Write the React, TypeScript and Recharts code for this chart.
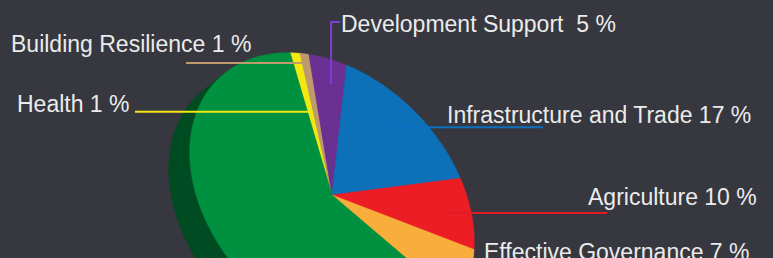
import { PieChart, Pie, Cell } from "recharts";

// slices in clockwise order starting at the top
const categories = [
  "Health",
  "Building Resilience",
  "Development Support",
  "Infrastructure and Trade",
  "Agriculture",
  "Effective Governance",
  "Other",
];
// share of the turn each slice takes on screen (the 3D tilt skews them off the printed percents)
const shares = [1.03, 0.94, 4.38, 21.15, 7.89, 5.39, 59.22];
const percentLabels = ["1 %", "1 %", "5 %", "17 %", "10 %", "7 %", ""];

const colors = ["#f3e80f", "#bf9a6c", "#6a3092", "#0c71b9", "#ec1d25", "#f9ae3b", "#009140"];
const sideColors = ["#8f8700", "#6f5638", "#3a1a52", "#06406b", "#86101a", "#936520", "#004c22"];
const leaderColors = ["#f3e80f", "#bf9a6c", "#7d3fd6", "#0d6fbf", "#e31b23", "#f9ae3b", "none"];

const BG = "#36373f";
const RAD = Math.PI / 180;
const TILT = 46.3 * RAD;

const data = categories.map((name, i) => ({ name, value: shares[i] }));

// label placement: where the leader starts inside the slice, where it ends, and the text spot
const labelLayout: any[] = [
  { t: 0.3, r: 0.585, lineTo: 135, tx: 17, ty: 112, gap: " " },
  { t: 0.5, r: 0.935, lineTo: 186, tx: 11, ty: 52, gap: " " },
  { t: 0.56, r: 0.82, elbowY: 22, lineTo: 340, tx: 341, ty: 32, gap: "  " },
  { t: 0.445, r: 0.756, lineTo: 543, tx: 447, ty: 123, gap: " " },
  { t: 0.574, r: 0.82, lineTo: 607, tx: 588, ty: 205, gap: " " },
  { t: 0.9, r: 0.9, lineTo: 600, tx: 484, ty: 260, gap: " " },
  null,
];

// distance from the apex to the tilted rim along a recharts angle
function edgeDistance(angleDeg: number, R: number) {
  const a = angleDeg * RAD;
  const dx = Math.cos(a);
  const dy = -Math.sin(a);
  const wx = 0;
  const wy = -0.014 * R;
  const A = 1.131 * R;
  const B = 0.82 * R;
  const c = Math.cos(TILT);
  const s = Math.sin(TILT);
  const du = dx * c + dy * s;
  const dv = -dx * s + dy * c;
  const wu = wx * c + wy * s;
  const wv = -wx * s + wy * c;
  const qa = (du * du) / (A * A) + (dv * dv) / (B * B);
  const qb = (wu * du) / (A * A) + (wv * dv) / (B * B);
  const qc = (wu * wu) / (A * A) + (wv * wv) / (B * B) - 1;
  return (-qb + Math.sqrt(qb * qb - qa * qc)) / qa;
}

const TiltedSector = (props: any) => {
  const { cx, cy, outerRadius, startAngle, endAngle, fill } = props;
  const steps = Math.max(2, Math.ceil(Math.abs(endAngle - startAngle)));
  let d = `M${cx},${cy}`;
  for (let i = 0; i <= steps; i++) {
    const a = startAngle + ((endAngle - startAngle) * i) / steps;
    const r = edgeDistance(a, outerRadius);
    d += `L${cx + r * Math.cos(a * RAD)},${cy - r * Math.sin(a * RAD)}`;
  }
  return <path d={d + "Z"} fill={fill} stroke={fill} strokeWidth={0.6} />;
};

const renderLabel = (props: any) => {
  const { cx, cy, startAngle, endAngle, outerRadius, index } = props;
  const layout = labelLayout[index];
  if (!layout) return <g />;
  const angle = startAngle + (endAngle - startAngle) * layout.t;
  const dist = layout.r * edgeDistance(angle, outerRadius);
  const ax = cx + dist * Math.cos(angle * RAD);
  const ay = cy - dist * Math.sin(angle * RAD);
  const points =
    layout.elbowY !== undefined
      ? `${ax},${ay} ${ax},${layout.elbowY} ${layout.lineTo},${layout.elbowY}`
      : `${ax},${ay} ${layout.lineTo},${ay}`;
  return (
    <g>
      <polyline points={points} fill="none" stroke={leaderColors[index]} strokeWidth={2} />
      <text
        x={layout.tx}
        y={layout.ty}
        fill="#ebebeb"
        fontSize={23}
        fontFamily="'Liberation Sans', Arial, sans-serif"
        style={{ whiteSpace: "pre" }}
      >
        {categories[index] + layout.gap + percentLabels[index]}
      </text>
    </g>
  );
};

// side of the 3D pie: copies pushed down-left
const depthSteps = [1, 0.9, 0.8, 0.7, 0.6, 0.5, 0.4, 0.3, 0.2, 0.1];

export default function App() {
  const cx = 332;
  const cy = 195;
  return (
    <div style={{ position: "fixed", left: 0, top: 0, width: 773, height: 258, background: BG }}>
      <PieChart width={773} height={258} margin={{ top: 0, right: 0, bottom: 0, left: 0 }}>
        {depthSteps.map((t) => (
          <Pie
            key={`side-${t}`}
            data={data}
            dataKey="value"
            cx={cx - 21 * t}
            cy={cy + 17 * t}
            outerRadius={145}
            startAngle={106.4}
            endAngle={-253.6}
            stroke="none"
            shape={TiltedSector}
            activeShape={TiltedSector}
            inactiveShape={TiltedSector}
            isAnimationActive={false}
          >
            {data.map((_, i) => (
              <Cell key={i} fill={sideColors[i]} />
            ))}
          </Pie>
        ))}
        <Pie
          data={data}
          dataKey="value"
          cx={cx}
          cy={cy}
          outerRadius={145}
          startAngle={106.4}
          endAngle={-253.6}
          stroke="none"
          shape={TiltedSector}
          activeShape={TiltedSector}
          inactiveShape={TiltedSector}
          label={renderLabel}
          labelLine={false}
          isAnimationActive={false}
        >
          {data.map((_, i) => (
            <Cell key={i} fill={colors[i]} />
          ))}
        </Pie>
      </PieChart>
    </div>
  );
}
